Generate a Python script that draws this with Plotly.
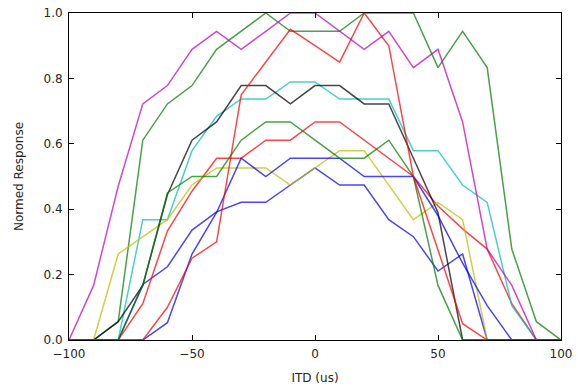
import plotly.graph_objects as go

itd = [-100, -90, -80, -70, -60, -50, -40, -30, -20, -10, 0, 10, 20, 30, 40, 50, 60, 70, 80, 90, 100]

blue_1 = [0, 0, 0, 0.17, 0.224, 0.336, 0.392, 0.421, 0.421, 0.474, 0.526, 0.474, 0.474, 0.368, 0.316, 0.211, 0.263, 0, 0, 0, 0]
green_1 = [0, 0, 0.056, 0.611, 0.722, 0.778, 0.889, 0.944, 1.0, 0.944, 0.944, 0.944, 1.0, 1.0, 1.0, 0.833, 0.944, 0.833, 0.278, 0.056, 0]
red_1 = [0, 0, 0, 0.111, 0.333, 0.455, 0.556, 0.556, 0.611, 0.611, 0.667, 0.667, 0.611, 0.556, 0.5, 0.41, 0.34, 0.278, 0.111, 0, 0]
cyan_1 = [0, 0, 0, 0.368, 0.368, 0.579, 0.684, 0.737, 0.737, 0.789, 0.789, 0.737, 0.737, 0.737, 0.579, 0.579, 0.474, 0.421, 0.105, 0, 0]
magenta_1 = [0, 0.167, 0.47, 0.722, 0.778, 0.889, 0.944, 0.889, 0.944, 1.0, 1.0, 0.944, 0.889, 0.944, 0.833, 0.889, 0.667, 0.278, 0.167, 0, 0]
yellow_1 = [0, 0, 0.263, 0.316, 0.368, 0.474, 0.526, 0.526, 0.526, 0.474, 0.526, 0.579, 0.579, 0.474, 0.368, 0.421, 0.368, 0, 0, 0, 0]
black_1 = [0, 0, 0.056, 0.167, 0.444, 0.611, 0.667, 0.778, 0.778, 0.722, 0.778, 0.778, 0.722, 0.722, 0.556, 0.389, 0, 0, 0, 0, 0]
blue_2 = [0, 0, 0, 0, 0.053, 0.263, 0.39, 0.556, 0.5, 0.556, 0.556, 0.556, 0.5, 0.5, 0.5, 0.38, 0.235, 0.105, 0, 0, 0]
green_2 = [0, 0, 0, 0.167, 0.45, 0.5, 0.5, 0.611, 0.667, 0.667, 0.611, 0.556, 0.556, 0.611, 0.5, 0.167, 0, 0, 0, 0, 0]
red_2 = [0, 0, 0, 0, 0.1, 0.25, 0.3, 0.75, 0.85, 0.95, 0.9, 0.85, 1.0, 0.9, 0.5, 0.275, 0.05, 0, 0, 0, 0]

series = [blue_1, green_1, red_1, cyan_1, magenta_1, yellow_1, black_1, blue_2, green_2, red_2]
colors = ["#0000ff", "#008000", "#ff0000", "#00bfbf", "#bf00bf", "#bfbf00", "#000000", "#0000ff", "#008000", "#ff0000"]

x_tickvals = [-100, -50, 0, 50, 100]
x_ticktext = ["\u2212100", "\u221250", "0", "50", "100"]
y_tickvals = [0.0, 0.2, 0.4, 0.6, 0.8, 1.0]
y_ticktext = ["0.0", "0.2", "0.4", "0.6", "0.8", "1.0"]

fig = go.Figure()
for vals, col in zip(series, colors):
    fig.add_trace(go.Scatter(x=itd, y=vals, mode="lines",
                             line=dict(color=col, width=1.5), opacity=0.72,
                             showlegend=False, hoverinfo="skip"))

font = dict(family="DejaVu Sans", size=12, color="#262626")
axis_common = dict(showgrid=False, zeroline=False, showline=True, linecolor="black",
                   linewidth=1, mirror="allticks", ticks="inside", ticklen=5,
                   tickcolor="black", tickwidth=1, tickfont=font, automargin=False,
                   ticklabelstandoff=3, ticklabeloverflow="allow")

fig.update_layout(
    width=582, height=387,
    margin=dict(l=69, r=21, t=13, b=47),
    paper_bgcolor="white", plot_bgcolor="white",
    font=font,
    xaxis=dict(range=[-100, 100], tickvals=x_tickvals, ticktext=x_ticktext,
               title=dict(text="ITD (us)", font=font, standoff=13), **axis_common),
    yaxis=dict(range=[0, 1], tickvals=y_tickvals, ticktext=y_ticktext,
               title=dict(text="Normed Response", font=font, standoff=17), **axis_common),
)

fig.write_html("out.html", config={"displayModeBar": False})

# remove the browser's default 8px body margin so the figure sits at the page origin
with open("out.html", "r", encoding="utf-8") as f:
    html = f.read()
html = html.replace("<head>", "<head><style>html,body{margin:0;padding:0;}</style>", 1)
with open("out.html", "w", encoding="utf-8") as f:
    f.write(html)
